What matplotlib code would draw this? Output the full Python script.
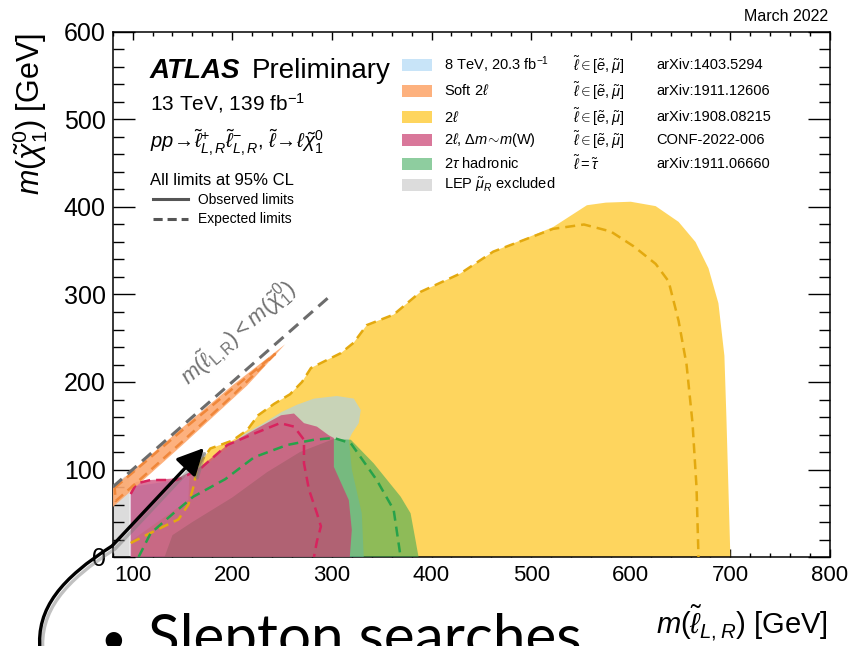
import matplotlib
matplotlib.use('Agg')
import matplotlib.pyplot as plt
from matplotlib.patches import Polygon, Rectangle, FancyArrowPatch
from matplotlib.path import Path
from matplotlib.ticker import MultipleLocator
from matplotlib.lines import Line2D

plt.rcParams['font.family'] = ['Liberation Sans', 'DejaVu Sans']
plt.rcParams['mathtext.fontset'] = 'custom'
plt.rcParams['mathtext.rm'] = 'Liberation Sans'
plt.rcParams['mathtext.it'] = 'Liberation Sans:italic'
plt.rcParams['mathtext.bf'] = 'Liberation Sans:bold'

# exclusion contours, m(slepton) vs m(chi10) in GeV
lep_x = [80, 80, 92, 97, 97]
lep_y = [0, 80, 92, 92, 0]

soft_obs_x = [80, 150, 200, 253, 215, 150, 100, 80]
soft_obs_y = [79, 148, 196, 243, 196, 128, 77, 57]
soft_exp_x = [82, 150, 200, 243, 200, 150, 100, 83, 82]
soft_exp_y = [79, 145, 192, 232, 184, 132, 81, 64, 79]

yellow_obs_x = [99, 99, 156, 157, 165, 178, 200, 215, 226, 242, 258, 270, 279, 309, 322, 335,
                362, 389, 429, 462, 522, 556, 575, 600, 625, 648, 665, 678, 688, 694, 696, 698, 700]
yellow_obs_y = [0, 19, 65, 96, 103, 124, 133, 145, 162, 175, 186, 200, 216, 233, 245, 265,
                277, 303, 324, 349, 377, 402, 405, 406, 401, 383, 360, 330, 290, 230, 160, 80, 0]
yellow_exp_x = [98, 126, 146, 156, 161, 165, 178, 200, 215, 226, 242, 258, 270, 279, 309, 322,
                335, 362, 389, 429, 462, 522, 553, 580, 603, 625, 638, 648, 656, 662, 666, 668]
yellow_exp_y = [16, 32, 43, 60, 80, 103, 124, 133, 145, 162, 175, 186, 200, 216, 233, 245,
                265, 277, 303, 324, 349, 375, 380, 372, 355, 335, 315, 270, 220, 153, 80, 0]

blue_x = [98, 98, 145, 168, 195, 211, 230, 250, 265, 282, 305, 322, 329, 327, 320, 317, 320, 330, 332]
blue_y = [0, 80, 88, 100, 125, 140, 152, 166, 174, 181, 184, 181, 168, 153, 141, 134, 100, 50, 0]

green_obs_x = [132, 140, 160, 200, 235, 268, 302, 319, 342, 369, 379, 384, 387]
green_obs_y = [0, 25, 40, 68, 97, 120, 135, 134, 107, 69, 50, 19, 0]
green_exp_x = [106, 118, 141, 161, 193, 222, 255, 282, 302, 319, 345, 362, 369]
green_exp_y = [0, 27, 50, 69, 89, 114, 128, 134, 136, 130, 88, 54, 0]

pink_obs_x = [98, 98, 104, 118, 145, 168, 195, 225, 249, 262, 272, 285, 297, 302, 302, 317, 320, 318]
pink_obs_y = [0, 82, 86, 88, 90, 103, 128, 147, 162, 164, 153, 149, 139, 136, 103, 65, 31, 0]
pink_exp_x = [98, 104, 118, 145, 168, 195, 222, 248, 262, 272, 272, 277, 285, 289, 285, 282]
pink_exp_y = [72, 84, 88, 88, 101, 128, 141, 153, 149, 134, 107, 77, 50, 35, 18, 0]

diag_x = [80, 300]
diag_y = [80, 300]

leg_labels = [r'8 TeV, 20.3 fb$^{-1}$', r'Soft 2$\ell$', r'2$\ell$', r'2$\ell$, $\Delta m\!\sim\!m$(W)',
              r'2$\tau$ hadronic', r'LEP $\tilde{\mu}_R$ excluded']
leg_slep = [r'$\tilde{\ell}\in[\tilde{e},\tilde{\mu}]$'] * 4 + [r'$\tilde{\ell}=\tilde{\tau}$', '']
leg_refs = ['arXiv:1403.5294', 'arXiv:1911.12606', 'arXiv:1908.08215', 'CONF-2022-006',
            'arXiv:1911.06660', '']

YELLOW = ('#fed55e', 1.0)
BLUE = ('#a4d3f4', 0.6)
GREEN = ('#36a754', 0.56)
PINK = ('#c93d6f', 0.7)
ORANGE = ('#fda970', 0.9)
GRAY = ('#dcdcdc', 1.0)
leg_colors = [BLUE, ORANGE, YELLOW, PINK, GREEN, GRAY]

W, H = 850, 646


def fig_xy(px, py):
    return px / W, 1 - py / H


def fill(ax, xs, ys, style, z):
    ax.add_patch(Polygon(list(zip(xs, ys)), closed=True, facecolor=style[0], alpha=style[1],
                         edgecolor='none', zorder=z))


def dashed(ax, xs, ys, color, lw=1.8, z=5):
    ax.plot(xs, ys, color=color, lw=lw, linestyle=(0, (4, 2.4)), zorder=z)


def main():
    fig = plt.figure(figsize=(8.5, 6.46), dpi=100)
    ax = fig.add_axes([112.7 / W, 1 - 557 / H, 717.3 / W, 525 / H])
    ax.set_xlim(80, 800)
    ax.set_ylim(0, 600)

    fill(ax, lep_x, lep_y, GRAY, 1)
    fill(ax, yellow_obs_x, yellow_obs_y, YELLOW, 2)
    fill(ax, blue_x, blue_y, BLUE, 3)
    fill(ax, green_obs_x, green_obs_y, GREEN, 4)
    fill(ax, pink_obs_x, pink_obs_y, PINK, 4.5)
    fill(ax, soft_obs_x, soft_obs_y, ORANGE, 4.6)

    dashed(ax, yellow_exp_x, yellow_exp_y, '#e3a90f')
    dashed(ax, green_exp_x, green_exp_y, '#27a24a')
    dashed(ax, pink_exp_x, pink_exp_y, '#d8235e')
    dashed(ax, soft_exp_x, soft_exp_y, '#f0873a')
    dashed(ax, diag_x, diag_y, '#6c6c6c', lw=2.2, z=6)
    ax.text(206, 256, r'$m(\tilde{\ell}_{\mathrm{L,R}})<m(\tilde{\chi}^{0}_{1})$', color='#707070',
            fontsize=16, rotation=45, transform_rotates_text=True, rotation_mode='anchor',
            ha='center', va='center')

    ax.xaxis.set_major_locator(MultipleLocator(100))
    ax.xaxis.set_minor_locator(MultipleLocator(20))
    ax.yaxis.set_major_locator(MultipleLocator(100))
    ax.yaxis.set_minor_locator(MultipleLocator(20))
    ax.tick_params(which='both', direction='in', top=True, right=True, labelsize=16)
    ax.tick_params(axis='y', which='major', length=16, width=1, labelsize=18, pad=5)
    ax.tick_params(axis='y', which='minor', length=8, width=1)
    ax.tick_params(axis='x', which='major', length=6, width=1, pad=6)
    ax.tick_params(axis='x', which='minor', length=3, width=1)
    for s in ax.spines.values():
        s.set_linewidth(1.1)

    # labels and header texts
    fig.text(30 / W, 1 - 33 / H, r'$m(\tilde{\chi}^{0}_{1})$ [GeV]', rotation=90, ha='center',
             va='top', fontsize=22)
    fig.text(828 / W, 1 - 634 / H, r'$m(\tilde{\ell}_{L,R})$ [GeV]', ha='right', va='baseline',
             fontsize=21)
    fig.text(828 / W, 1 - 21 / H, 'March 2022', ha='right', va='baseline', fontsize=11.5)

    ax.text(0.052, 0.912, 'ATLAS', transform=ax.transAxes, fontsize=20, fontweight='bold',
            fontstyle='italic', va='baseline')
    ax.text(0.194, 0.912, 'Preliminary', transform=ax.transAxes, fontsize=20, va='baseline')
    ax.text(0.052, 0.851, r'13 TeV, 139 fb$^{-1}$', transform=ax.transAxes, fontsize=15,
            va='baseline')
    ax.text(0.052, 0.779, r'$pp\!\rightarrow\!\tilde{\ell}^{+}_{L,R}\tilde{\ell}^{-}_{L,R},\,'
            r'\tilde{\ell}\!\rightarrow\!\ell\tilde{\chi}^{0}_{1}$',
            transform=ax.transAxes, fontsize=14.5, va='baseline')
    ax.text(0.052, 0.708, 'All limits at 95% CL', transform=ax.transAxes, fontsize=12,
            va='baseline')
    ax.add_line(Line2D([0.056, 0.105], [0.682, 0.682], transform=ax.transAxes, color='#555555',
                       lw=2.2))
    ax.add_line(Line2D([0.056, 0.105], [0.644, 0.644], transform=ax.transAxes, color='#555555',
                       lw=2.2, linestyle=(0, (3, 1.6))))
    ax.text(0.119, 0.672, 'Observed limits', transform=ax.transAxes, fontsize=10, va='baseline')
    ax.text(0.119, 0.636, 'Expected limits', transform=ax.transAxes, fontsize=10, va='baseline')

    rows_y = [0.937, 0.888, 0.838, 0.794, 0.749, 0.709]
    for yy, lab, sl, ref, col in zip(rows_y, leg_labels, leg_slep, leg_refs, leg_colors):
        ax.add_patch(Rectangle((0.4033, yy - 0.011), 0.0418, 0.022, transform=ax.transAxes,
                               facecolor=col[0], alpha=col[1], edgecolor='none', zorder=7))
        ax.text(0.4619, yy, lab, transform=ax.transAxes, fontsize=10.5, va='center', zorder=7)
        ax.text(0.6418, yy, sl, transform=ax.transAxes, fontsize=10.5, va='center', zorder=7)
        ax.text(0.7575, yy, ref, transform=ax.transAxes, fontsize=10.5, va='center', zorder=7)

    # slide overlay: bullet text and hand-drawn arrow
    fig.text(100 / W, 1 - 654 / H, '\u2022', fontsize=32, va='baseline', family='Lato')
    fig.text(148 / W, 1 - 656 / H, 'Slepton searches', fontsize=42, va='baseline', family='Lato')
    pts = [(40, 650), (36, 608), (62, 578), (112, 546), (204, 448)]
    codes = [Path.MOVETO, Path.CURVE4, Path.CURVE4, Path.CURVE4, Path.LINETO]
    for dx, dy, c, a in [(3, 3, '#777777', 0.45), (0, 0, 'black', 1.0)]:
        path = Path([fig_xy(px + dx, py + dy) for px, py in pts], codes)
        arr = FancyArrowPatch(path=path, arrowstyle='-|>,head_length=0.9,head_width=0.45',
                              mutation_scale=18, lw=2.4, color=c, alpha=a,
                              transform=fig.transFigure, zorder=20)
        fig.add_artist(arr)

    fig.savefig('out.png', dpi=100)


if __name__ == '__main__':
    main()
